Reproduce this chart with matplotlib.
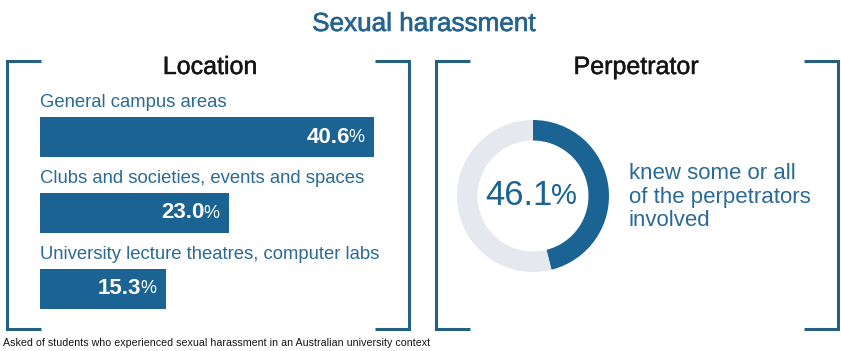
import matplotlib.pyplot as plt
import matplotlib.patheffects as pe

plt.rcParams['font.family'] = ['Liberation Sans', 'DejaVu Sans']

# where the harassment happened (% of students)
locations = [
    "General campus areas",
    "Clubs and societies, events and spaces",
    "University lecture theatres, computer labs",
]
location_pct = [40.6, 23.0, 15.3]

# share who knew the perpetrator(s)
knew_pct = 46.1
knew_text = "knew some or all\nof the perpetrators\ninvolved"

title = "Sexual harassment"
footnote = ("Asked of students who experienced sexual harassment "
            "in an Australian university context")

BLUE = "#1b6392"
TEXT_BLUE = "#2a6a94"
TITLE_BLUE = "#25648e"
FRAME = "#245f84"
GREY = "#e5e8ef"
DARK = "#151515"

W, H = 841, 351
fig = plt.figure(figsize=(W / 100, H / 100), dpi=100)
fig.patch.set_facecolor("white")


def px_axes(x0, y0, x1, y1):
    # axes box in pixels, measured from the top-left corner
    return fig.add_axes([x0 / W, 1 - y1 / H, (x1 - x0) / W, (y1 - y0) / H])


# --- location bars ---
bar_h = 0.53
ax = px_axes(40, 117, 410, 309)
ax.barh(range(len(location_pct)), location_pct, height=bar_h, color=BLUE)
ax.set_xlim(0, 45)
ax.set_ylim(len(location_pct) - 1 + 0.265, -0.265)
ax.axis("off")

for i, (name, v) in enumerate(zip(locations, location_pct)):
    ax.annotate(name, xy=(0, i - bar_h / 2), xytext=(0, 7.2),
                textcoords="offset points", ha="left", va="baseline",
                fontsize=13.3, color=TEXT_BLUE)
    ax.annotate(f"{v:.1f}", xy=(v, i), xytext=(-17.5, 0),
                textcoords="offset points", ha="right", va="center",
                fontsize=16, fontweight="bold", color="white")
    ax.annotate("%", xy=(v, i), xytext=(-7, 0),
                textcoords="offset points", ha="right", va="center",
                fontsize=13, color="white")

# --- perpetrator donut ---
ax2 = px_axes(457, 120, 609, 272)
ax2.pie([knew_pct, 100 - knew_pct], colors=[BLUE, GREY], startangle=90,
        counterclock=False, radius=1,
        wedgeprops=dict(width=0.27, edgecolor="none"))
ax2.set_xlim(-1, 1)
ax2.set_ylim(-1, 1)
ax2.annotate(f"{knew_pct:.1f}", xy=(0, 0), xytext=(14.4, 0),
             textcoords="offset points", ha="right", va="center",
             fontsize=25, color=BLUE)
ax2.annotate("%", xy=(0, 0), xytext=(13, 0),
             textcoords="offset points", ha="left", va="center",
             fontsize=21, color=BLUE)

# --- frame, headings and notes in pixel space ---
ax0 = fig.add_axes([0, 0, 1, 1])
ax0.set_xlim(0, W)
ax0.set_ylim(H, 0)
ax0.axis("off")


def bracket(xl, xr, yt, yb, arm=34):
    kw = dict(color=FRAME, lw=2.2, solid_joinstyle="miter",
              solid_capstyle="butt")
    ax0.plot([xl + arm, xl, xl, xl + arm], [yt, yt, yb, yb], **kw)
    ax0.plot([xr - arm, xr, xr, xr - arm], [yt, yt, yb, yb], **kw)


bracket(7, 409, 61, 329)
bracket(436, 838, 61, 329)

ax0.text(424, 24, title, ha="center", va="center", fontsize=18.8,
         color=TITLE_BLUE,
         path_effects=[pe.withStroke(linewidth=0.45, foreground=TITLE_BLUE)])
heavy = [pe.withStroke(linewidth=0.35, foreground=DARK)]
ax0.text(210, 67, "Location", ha="center", va="center", fontsize=18,
         color=DARK, path_effects=heavy)
ax0.text(636, 67, "Perpetrator", ha="center", va="center", fontsize=18,
         color=DARK, path_effects=heavy)
ax0.text(629, 197, knew_text, ha="left", va="center", fontsize=16,
         color=TEXT_BLUE, linespacing=1.13)
ax0.text(3, 343, footnote, ha="left", va="center", fontsize=7.7, color=DARK)

fig.savefig("out.png", dpi=100, facecolor="white")
